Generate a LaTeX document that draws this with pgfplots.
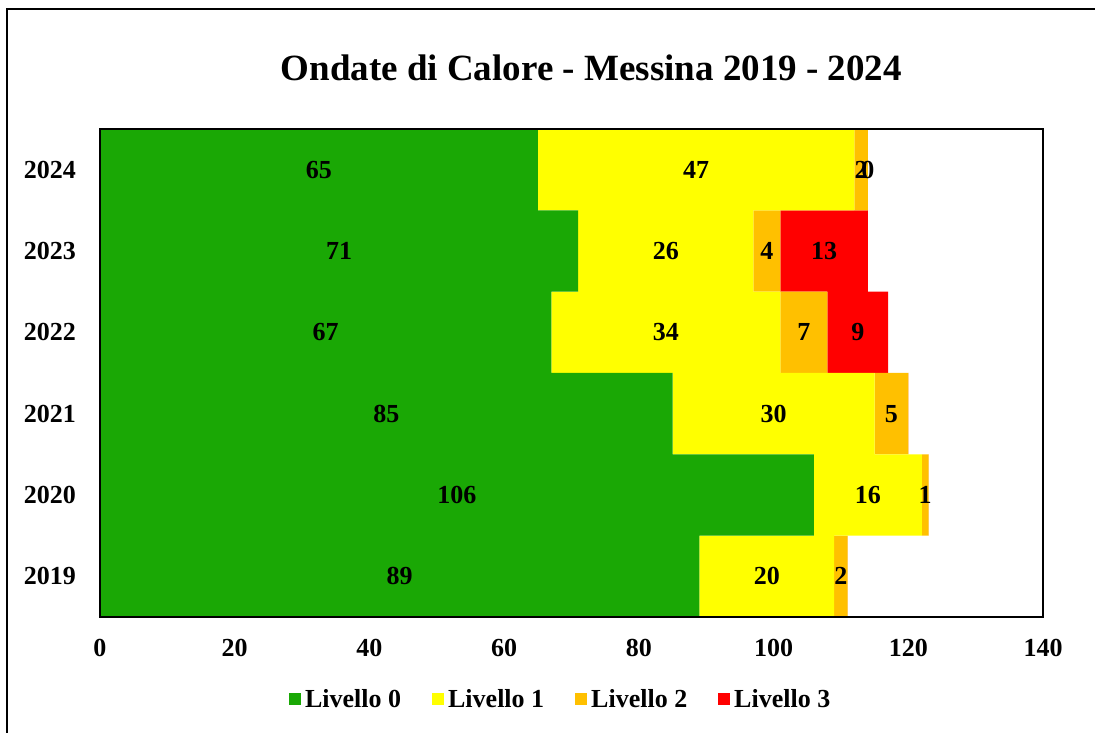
\documentclass[border=0pt]{standalone}
\usepackage{fontspec}
\setmainfont{Liberation Serif}
\usepackage{pgfplots}
\usepackage{pgfplotstable}
\pgfplotsset{compat=1.18}
\definecolor{lv0}{RGB}{26,168,5}
\definecolor{lv1}{RGB}{255,255,0}
\definecolor{lv2}{RGB}{255,192,0}
\definecolor{lv3}{RGB}{255,0,0}

\pgfplotstableread{
y v lab
0 89 89
1 106 106
2 85 85
3 67 67
4 71 71
5 65 65
}\lzero
\pgfplotstableread{
y v lab
0 20 20
1 16 16
2 30 30
3 34 34
4 26 26
5 47 47
}\lone
\pgfplotstableread{
y v lab
0 2 2
1 1 1
2 5 5
3 7 7
4 4 4
5 2 2
}\ltwo
\pgfplotstableread{
y v lab
0 0 {}
1 0 {}
2 0 {}
3 9 9
4 13 13
5 0 0
}\lthree

\pgfplotsset{
  seg/.style={fill=#1, draw=none, point meta=explicit symbolic},
}

\begin{document}
\begin{tikzpicture}
\useasboundingbox (-100pt,-116pt) rectangle (995pt,617pt);
\draw[line width=2pt] (-93pt,-116pt) -- (-93pt,608pt) -- (995pt,608pt);
\begin{axis}[
  at={(0pt,0pt)}, anchor=south west,
  width=943pt, height=488pt, scale only axis,
  xbar stacked, bar width=1,
  stacked ignores zero=false,
  xmin=0, xmax=140, ymin=-0.5, ymax=5.5,
  xtick={0,20,...,140},
  ytick={0,...,5}, yticklabels={2019,2020,2021,2022,2023,2024},
  major tick length=0pt,
  /pgf/number format/assume math mode=true,
  tick label style={font=\bfseries\fontsize{26}{28}\selectfont, inner sep=0pt},
  xticklabel style={anchor=center, yshift=-31pt},
  yticklabel style={anchor=east, xshift=-24pt},
  axis line style={line width=1.5pt},
  axis on top,
  title={Ondate di Calore - Messina 2019 - 2024},
  title style={at={(0.521,1.113)}, anchor=center, font=\bfseries\fontsize{37}{40}\selectfont},
  legend style={at={(0.488,-0.168)}, anchor=center, draw=none, legend columns=4,
    font=\bfseries\fontsize{26}{28}\selectfont,
    nodes={inner sep=1pt},
    /tikz/every even column/.append style={column sep=30pt},
    /tikz/every odd column/.append style={column sep=3pt}},
  legend image code/.code={\fill[#1] (0pt,-6pt) rectangle (12pt,6pt);},
  nodes near coords,
  every node near coord/.append style={anchor=center, black, inner sep=0pt,
    font=\bfseries\fontsize{26}{28}\selectfont},
]
\addplot[seg=lv0] table[x=v, y=y, meta=lab] {\lzero};
\addplot[seg=lv1] table[x=v, y=y, meta=lab] {\lone};
\addplot[seg=lv2] table[x=v, y=y, meta=lab] {\ltwo};
\addplot[seg=lv3] table[x=v, y=y, meta=lab] {\lthree};
\legend{Livello 0, Livello 1, Livello 2, Livello 3}
\end{axis}
\end{tikzpicture}
\end{document}
